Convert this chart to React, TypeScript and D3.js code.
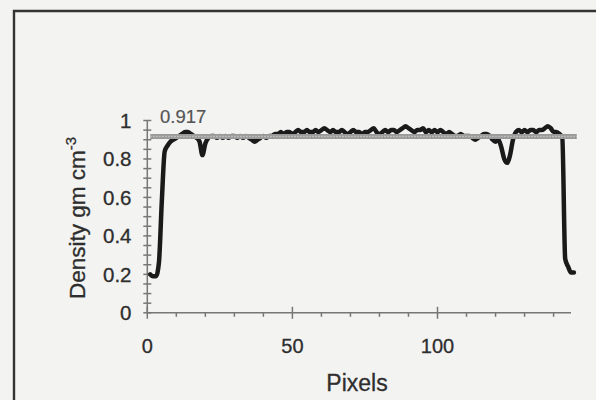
import React, { useEffect, useRef } from "react";
import * as d3 from "d3";

// density profile, one value per image pixel (pixel 1..147)
const density = [
  0.2, 0.19, 0.19, 0.26, 0.58, 0.84, 0.87, 0.89, 0.9, 0.91,
  0.92, 0.93, 0.94, 0.94, 0.93, 0.92, 0.91, 0.89, 0.82, 0.88,
  0.91, 0.92, 0.92, 0.91, 0.92, 0.91, 0.92, 0.91, 0.92, 0.92,
  0.91, 0.92, 0.91, 0.92, 0.91, 0.9, 0.89, 0.9, 0.91, 0.92,
  0.91, 0.92, 0.92, 0.93, 0.93, 0.94, 0.93, 0.94, 0.94, 0.93,
  0.94, 0.95, 0.94, 0.94, 0.95, 0.94, 0.94, 0.95, 0.94, 0.95,
  0.96, 0.95, 0.94, 0.95, 0.94, 0.94, 0.95, 0.94, 0.93, 0.94,
  0.95, 0.94, 0.94, 0.93, 0.94, 0.94, 0.95, 0.96, 0.94, 0.93,
  0.94, 0.95, 0.94, 0.95, 0.95, 0.94, 0.95, 0.96, 0.97, 0.96,
  0.95, 0.94, 0.95, 0.95, 0.96, 0.94, 0.95, 0.94, 0.95, 0.94,
  0.95, 0.94, 0.93, 0.94, 0.93, 0.92, 0.92, 0.93, 0.92, 0.92,
  0.92, 0.91, 0.9, 0.91, 0.92, 0.93, 0.93, 0.92, 0.9, 0.89,
  0.9, 0.86, 0.8, 0.78, 0.82, 0.9, 0.94, 0.95, 0.94, 0.95,
  0.94, 0.95, 0.95, 0.94, 0.95, 0.95, 0.96, 0.97, 0.96, 0.94,
  0.94, 0.93, 0.91, 0.28, 0.24, 0.21, 0.21,
];

const meanDensity = 0.917;
const meanSpan = [1, 148];

const xMajorTicks = [0, 50, 100];
const xMinorTicks = [10, 20, 30, 40, 60, 70, 80, 90, 110, 120, 130, 140];
const yMajorTicks = [0, 0.2, 0.4, 0.6, 0.8, 1];
const yTickLabels = ["0", "0.2", "0.4", "0.6", "0.8", "1"];
const yMinorTicks = [
  0.05, 0.1, 0.15, 0.25, 0.3, 0.35, 0.45, 0.5, 0.55,
  0.65, 0.7, 0.75, 0.85, 0.9, 0.95,
];

const W = 596;
const H = 400;
const FONT = "'Liberation Sans', Arial, sans-serif";
const INK = "#2e2e2e";

export default function App() {
  const ref = useRef<SVGSVGElement>(null);

  useEffect(() => {
    const svg = d3.select(ref.current);
    svg.selectAll("*").remove();

    const x = d3.scaleLinear().domain([0, 146]).range([147.3, 571]);
    const y = d3.scaleLinear().domain([0, 1]).range([312.8, 120.5]);

    // paper + frame
    svg.append("rect").attr("width", W).attr("height", H).attr("fill", "#f3f3f1");
    svg
      .append("path")
      .attr("d", `M14,${H} V11 H${W}`)
      .attr("fill", "none")
      .attr("stroke", "#333")
      .attr("stroke-width", 2.4);

    const axisColor = "#777";
    const g = svg.append("g");

    // x axis
    g.append("line")
      .attr("x1", x(0)).attr("x2", x(146))
      .attr("y1", y(0)).attr("y2", y(0))
      .attr("stroke", axisColor).attr("stroke-width", 1.5);
    g.selectAll(".xmaj")
      .data(xMajorTicks)
      .enter()
      .append("line")
      .attr("x1", d => x(d)).attr("x2", d => x(d))
      .attr("y1", y(0) - 6).attr("y2", y(0) + 6)
      .attr("stroke", axisColor).attr("stroke-width", 1.5);
    g.selectAll(".xmin")
      .data(xMinorTicks)
      .enter()
      .append("line")
      .attr("x1", d => x(d)).attr("x2", d => x(d))
      .attr("y1", y(0)).attr("y2", y(0) + 4)
      .attr("stroke", axisColor).attr("stroke-width", 1.5);
    g.selectAll(".xlab")
      .data(xMajorTicks)
      .enter()
      .append("text")
      .attr("x", d => x(d))
      .attr("y", 353)
      .attr("text-anchor", "middle")
      .attr("font-family", FONT)
      .attr("font-size", 20)
      .attr("fill", INK)
      .attr("stroke", INK)
      .attr("stroke-width", 0.3)
      .text(d => String(d));

    // y axis
    g.append("line")
      .attr("x1", x(0)).attr("x2", x(0))
      .attr("y1", y(0)).attr("y2", y(1))
      .attr("stroke", axisColor).attr("stroke-width", 1.5);
    g.selectAll(".ytick")
      .data([...yMajorTicks, ...yMinorTicks])
      .enter()
      .append("line")
      .attr("x1", x(0) - 4).attr("x2", x(0) + 4)
      .attr("y1", d => y(d)).attr("y2", d => y(d))
      .attr("stroke", axisColor).attr("stroke-width", 1.5);
    g.selectAll(".ylab")
      .data(yMajorTicks)
      .enter()
      .append("text")
      .attr("x", 131.5)
      .attr("y", d => y(d))
      .attr("dy", "0.36em")
      .attr("text-anchor", "end")
      .attr("font-family", FONT)
      .attr("font-size", 20.5)
      .attr("fill", INK)
      .attr("stroke", INK)
      .attr("stroke-width", 0.3)
      .text((d, i) => yTickLabels[i]);

    // axis titles
    g.append("text")
      .attr("x", 357)
      .attr("y", 391)
      .attr("text-anchor", "middle")
      .attr("font-family", FONT)
      .attr("font-size", 23)
      .attr("fill", INK)
      .attr("stroke", INK)
      .attr("stroke-width", 0.3)
      .text("Pixels");

    const yt = g
      .append("text")
      .attr("transform", "translate(85,218) rotate(-90)")
      .attr("text-anchor", "middle")
      .attr("font-family", FONT)
      .attr("font-size", 22.5)
      .attr("fill", INK)
      .attr("stroke", INK)
      .attr("stroke-width", 0.3);
    yt.append("tspan").text("Density gm cm");
    yt.append("tspan").attr("dy", -9).attr("font-size", 15).text("-3");

    // density profile
    const line = d3
      .line<number>()
      .x((d, i) => x(i + 1))
      .y(d => y(d))
      .curve(d3.curveMonotoneX);
    g.append("path")
      .datum(density)
      .attr("d", line)
      .attr("fill", "none")
      .attr("stroke", "#1a1a1a")
      .attr("stroke-width", 4.5)
      .attr("stroke-linejoin", "round")
      .attr("stroke-linecap", "round");

    // mean line
    g.append("line")
      .attr("x1", x(meanSpan[0])).attr("x2", x(meanSpan[1]))
      .attr("y1", y(meanDensity)).attr("y2", y(meanDensity))
      .attr("stroke", "#999")
      .attr("stroke-width", 5);
    g.append("line")
      .attr("x1", x(meanSpan[0])).attr("x2", x(meanSpan[1]))
      .attr("y1", y(meanDensity)).attr("y2", y(meanDensity))
      .attr("stroke", "#c6c6c6")
      .attr("stroke-width", 1.5)
      .attr("stroke-dasharray", "1.5 1.5");

    g.append("text")
      .attr("x", 160)
      .attr("y", 123)
      .attr("font-family", FONT)
      .attr("font-size", 18.5)
      .attr("fill", "#555")
      .attr("stroke", "#555")
      .attr("stroke-width", 0.2)
      .text(String(meanDensity));
  }, []);

  return (
    <svg
      ref={ref}
      width={W}
      height={H}
      style={{ position: "absolute", left: 0, top: 0, display: "block" }}
    />
  );
}
